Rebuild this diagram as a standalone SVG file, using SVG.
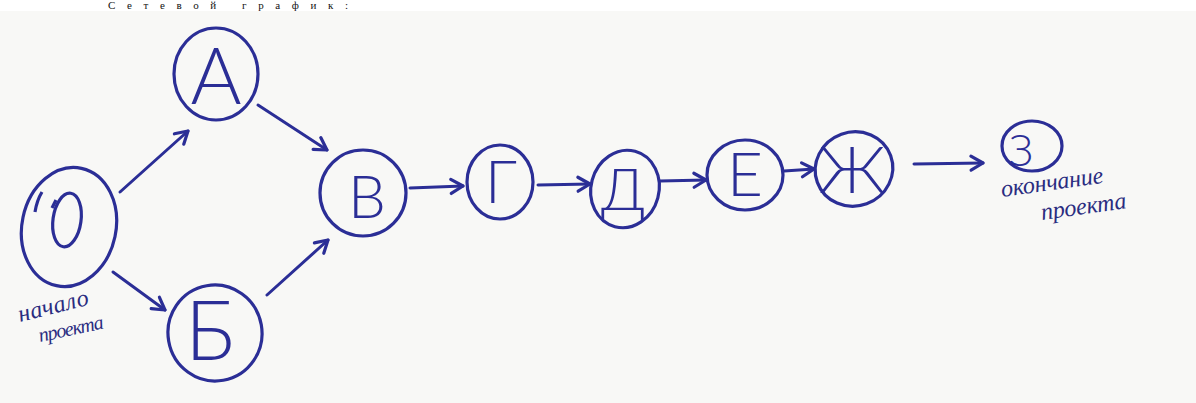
<svg xmlns="http://www.w3.org/2000/svg" width="1196" height="403" viewBox="0 0 1196 403">
<defs>
<style>
.node{fill:none;stroke:#2b2e96;stroke-width:3.2}
.lt{font-family:"Lato","Liberation Sans",sans-serif;font-weight:300;fill:#2b2e96;text-anchor:middle}
.edge{fill:none;stroke:#2b2e96;stroke-width:3;stroke-linecap:round}
.note{font-family:"Liberation Serif",serif;font-style:italic;fill:#2a2c80;font-size:24px}
</style>
<marker id="ah" markerUnits="userSpaceOnUse" markerWidth="20" markerHeight="20" refX="15" refY="9" orient="auto" viewBox="0 0 20 18">
<path d="M3,2 L15,9 L3,16" fill="none" stroke="#2b2e96" stroke-width="3.2" stroke-linecap="round" stroke-linejoin="round"/>
</marker>
</defs>
<rect x="0" y="0" width="1196" height="403" fill="#ffffff"/>
<text x="108" y="9" font-family="Liberation Serif" font-size="11" fill="#111" textLength="240" lengthAdjust="spacing">Сетевой график:</text>
<rect x="0" y="11" width="1196" height="392" fill="#f8f8f6"/>

<g id="connectors">
<line class="edge" x1="120" y1="192" x2="188" y2="131" marker-end="url(#ah)"/>
<line class="edge" x1="113" y1="272" x2="165" y2="310" marker-end="url(#ah)"/>
<line class="edge" x1="258" y1="105" x2="327" y2="150" marker-end="url(#ah)"/>
<line class="edge" x1="267" y1="295" x2="328" y2="240" marker-end="url(#ah)"/>
<line class="edge" x1="410" y1="188" x2="463" y2="186" marker-end="url(#ah)"/>
<line class="edge" x1="538" y1="185" x2="590" y2="184" marker-end="url(#ah)"/>
<line class="edge" x1="660" y1="181" x2="706" y2="180" marker-end="url(#ah)"/>
<line class="edge" x1="784" y1="171" x2="814" y2="169" marker-end="url(#ah)"/>
<line class="edge" x1="914" y1="164" x2="983" y2="163" marker-end="url(#ah)"/>
</g>

<g id="node-0">
<ellipse class="node" cx="69" cy="227" rx="47" ry="60" transform="rotate(12 69 227)"/>
<path class="node" d="M35,212 Q37,200 42,192"/>
<ellipse class="node" cx="67" cy="220" rx="14" ry="27" transform="rotate(8 67 220)"/>
<path class="node" d="M52,208 L56,200"/>
<text class="note" transform="translate(20,322) rotate(-14)" textLength="72">начало</text>
<text class="note" transform="translate(40,342) rotate(-12)" style="font-size:20px" textLength="66">проекта</text>
</g>

<g id="node-A">
<ellipse class="node" cx="216" cy="74" rx="42" ry="46"/>
<text class="lt" x="216" y="104" font-size="78">A</text>
</g>

<g id="node-B6">
<ellipse class="node" cx="215" cy="333" rx="47" ry="48" transform="rotate(-10 215 333)"/>
<text class="lt" x="210" y="360" font-size="82">Б</text>
</g>

<g id="node-V">
<ellipse class="node" cx="363" cy="193" rx="43" ry="43"/>
<text class="lt" x="367" y="218" font-size="60">В</text>
</g>

<g id="node-G">
<ellipse class="node" cx="500" cy="182" rx="33" ry="37"/>
<text class="lt" x="501" y="203" font-size="60">Г</text>
</g>

<g id="node-D">
<ellipse class="node" cx="625" cy="189" rx="34" ry="39" transform="rotate(15 625 189)"/>
<text class="lt" x="623" y="210" font-size="58">Д</text>
</g>

<g id="node-E">
<ellipse class="node" cx="745" cy="175" rx="38" ry="35"/>
<text class="lt" x="745" y="196" font-size="62">Е</text>
</g>

<g id="node-Zh">
<ellipse class="node" cx="854" cy="169" rx="39" ry="37" transform="rotate(-20 854 169)"/>
<text class="lt" x="852" y="193" font-size="66">Ж</text>
</g>

<g id="node-Z">
<ellipse class="node" cx="1032" cy="146" rx="30" ry="25"/>
<text class="lt" x="1021" y="166" font-size="44">З</text>
<text class="note" transform="translate(1002,197) rotate(-8)" textLength="103">окончание</text>
<text class="note" transform="translate(1042,220) rotate(-8)" textLength="86">проекта</text>
</g>
</svg>
